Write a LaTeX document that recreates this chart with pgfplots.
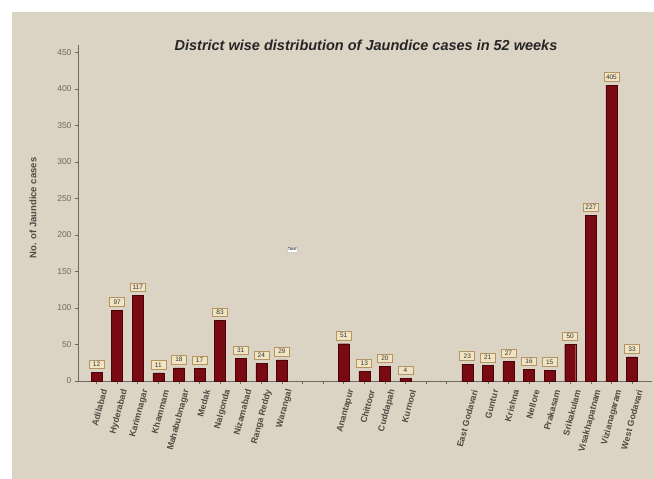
\documentclass[border=0pt]{standalone}
\usepackage{fontspec}
\setmainfont{Liberation Sans}
\usepackage{pgfplots}
\pgfplotsset{compat=1.18}

\definecolor{paper}{HTML}{DBD3C3}
\definecolor{barred}{HTML}{7A0A12}
\definecolor{baredge}{HTML}{4A0308}
\definecolor{boxfill}{HTML}{F1E4C2}
\definecolor{boxedge}{HTML}{B39462}
\definecolor{axisgray}{HTML}{6E6A62}
\definecolor{labelgray}{HTML}{4E4A44}

\begin{document}
\begin{tikzpicture}[x=1pt,y=1pt]
\fill[white] (0,0) rectangle (654,479);
\fill[paper] (12,0) rectangle (654,467);
\useasboundingbox (0,0) rectangle (654,479);

\node[font=\bfseries\itshape\fontsize{14.5}{16}\selectfont, text=black!85] at (366,434)
  {District wise distribution of Jaundice cases in 52 weeks};
\node[rotate=90, font=\bfseries\fontsize{9.5}{11}\selectfont, text=labelgray] at (33,271)
  {No. of Jaundice cases};

\begin{axis}[
  at={(78pt,98pt)}, anchor=south west,
  scale only axis, width=574pt, height=336pt,
  xmin=-0.9, xmax=26.97, ymin=0, ymax=460,
  axis x line=bottom, axis y line=left,
  axis line style={axisgray, line width=0.9pt, -},
  tick align=outside, tick style={axisgray, line width=0.5pt},
  major tick length=3pt,
  ytick={0,50,...,450},
  yticklabel style={font=\fontsize{8.5}{9}\selectfont, text=axisgray},
  /pgf/number format/assume math mode=true,
  xtick={0,...,26},
  xticklabels={Adilabad,Hyderabad,Karimnagar,Khammam,Mahabubnagar,Medak,Nalgonda,Nizamabad,Ranga Reddy,Warangal,{},{},Anantapur,Chittoor,Cuddapah,Kurnool,{},{},East Godavari,Guntur,Krishna,Nellore,Prakasam,Srikakulam,Visakhapatnam,Vizianagaram,West Godavari},
  xticklabel style={rotate=75, anchor=east, font=\bfseries\fontsize{8.8}{9}\selectfont,
    text=labelgray, xshift=-3pt, yshift=-9pt, inner sep=0.5pt},
  ybar, bar width=11pt,
  nodes near coords,
  every node near coord/.append style={font=\fontsize{6.5}{7}\selectfont, text=black!80,
    fill=boxfill, draw=boxedge, line width=0.6pt, inner sep=2pt, minimum width=15pt,
    anchor=south, yshift=3.5pt},
  clip=false,
]
\addplot[fill=barred, draw=baredge, line width=0.4pt] coordinates {
  (0,12) (1,97) (2,117) (3,11) (4,18) (5,17) (6,83) (7,31) (8,24) (9,29)
  (12,51) (13,13) (14,20) (15,4)
  (18,23) (19,21) (20,27) (21,16) (22,15) (23,50) (24,227) (25,405) (26,33)
};
\node[fill=white, draw=white!80!black, inner sep=1pt, font=\fontsize{4}{4.5}\selectfont]
  at (axis cs:9.5,180) {Total};
\end{axis}
\end{tikzpicture}
\end{document}
